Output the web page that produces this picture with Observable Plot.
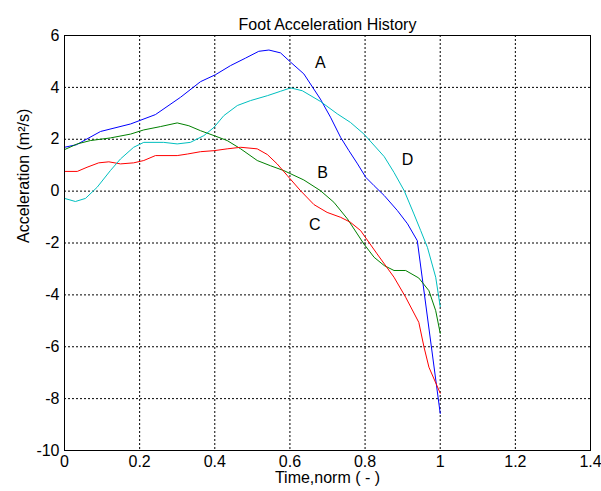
<!DOCTYPE html>
<html><head><meta charset="utf-8">
<script src="https://cdn.jsdelivr.net/npm/d3@7"></script>
<script src="https://cdn.jsdelivr.net/npm/@observablehq/plot@0.6"></script>
<style>body{margin:0;background:#fff}</style>
</head><body><div id="chart"></div>
<script>
const title = "Foot Acceleration History";
const xLabel = "Time,norm ( - )";
const yLabel = "Acceleration (m²/s)";
const xTicks = [0, 0.2, 0.4, 0.6, 0.8, 1, 1.2, 1.4];
const yTicks = [-10, -8, -6, -4, -2, 0, 2, 4, 6];

const aX = [0, 0.032, 0.096, 0.176, 0.242, 0.309, 0.362, 0.402, 0.442, 0.482, 0.517, 0.544, 0.575, 0.602, 0.637, 0.681, 0.708, 0.735, 0.757, 0.780, 0.802, 0.824, 0.851, 0.886, 0.913, 0.939, 1.0];
const aY = [1.69, 1.79, 2.3, 2.59, 2.95, 3.62, 4.22, 4.49, 4.84, 5.13, 5.39, 5.44, 5.33, 4.97, 4.52, 3.55, 2.85, 2.07, 1.56, 1.05, 0.53, 0.21, -0.17, -0.75, -1.26, -1.91, -8.57];

const bX = [0, 0.034, 0.069, 0.122, 0.176, 0.211, 0.256, 0.3, 0.331, 0.362, 0.398, 0.433, 0.469, 0.513, 0.548, 0.584, 0.637, 0.681, 0.717, 0.753, 0.797, 0.824, 0.851, 0.877, 0.908, 0.943, 0.970, 0.988, 1.0];
const bY = [1.6, 1.82, 1.95, 2.05, 2.2, 2.36, 2.49, 2.63, 2.52, 2.33, 2.14, 1.95, 1.63, 1.18, 0.98, 0.79, 0.43, 0.02, -0.43, -1.07, -2.04, -2.55, -2.87, -3.06, -3.06, -3.35, -3.84, -4.61, -5.48];

const cX = [0, 0.034, 0.06, 0.091, 0.118, 0.149, 0.184, 0.211, 0.242, 0.3, 0.327, 0.362, 0.398, 0.433, 0.469, 0.513, 0.540, 0.566, 0.593, 0.628, 0.664, 0.699, 0.735, 0.761, 0.788, 0.832, 0.877, 0.908, 0.943, 0.957, 0.970, 1.0];
const cY = [0.76, 0.76, 0.92, 1.09, 1.13, 1.05, 1.09, 1.18, 1.37, 1.37, 1.43, 1.52, 1.56, 1.63, 1.69, 1.63, 1.41, 1.05, 0.60, 0.02, -0.52, -0.82, -1.01, -1.2, -1.52, -2.42, -3.32, -4.09, -5.06, -6.02, -6.79, -7.79];

const dX = [0, 0.029, 0.056, 0.087, 0.122, 0.149, 0.184, 0.211, 0.264, 0.3, 0.335, 0.371, 0.398, 0.424, 0.46, 0.495, 0.540, 0.575, 0.602, 0.633, 0.681, 0.726, 0.761, 0.797, 0.851, 0.877, 0.904, 0.930, 0.948, 0.966, 0.988, 1.0];
const dY = [-0.28, -0.40, -0.28, 0.15, 0.79, 1.24, 1.69, 1.88, 1.88, 1.82, 1.88, 2.14, 2.46, 2.91, 3.30, 3.49, 3.68, 3.85, 3.98, 3.87, 3.46, 2.98, 2.65, 2.2, 1.33, 0.72, 0.02, -0.88, -1.52, -2.17, -3.32, -4.45];

const labelNames = ["A", "B", "C", "D"];
const labelX = [0.681, 0.687, 0.666, 0.913];
const labelY = [4.95, 0.71, -1.29, 1.21];

const series = [
  {x: aX, y: aY, color: "#0000ff"},
  {x: bX, y: bY, color: "#008000"},
  {x: cX, y: cY, color: "#ff0000"},
  {x: dX, y: dY, color: "#00bfbf"}
];
const labels = labelNames.map((t, i) => ({t, x: labelX[i], y: labelY[i]}));

const lineMarks = series.map(s =>
  Plot.line(s.x.map((x, i) => ({x, y: s.y[i]})), {x: "x", y: "y", stroke: s.color, strokeWidth: 1})
);

const FS = 16;
const chart = Plot.plot({
  width: 601,
  height: 491,
  marginLeft: 64,
  marginRight: 11,
  marginTop: 35,
  marginBottom: 41,
  style: {fontFamily: "'Liberation Sans', Arial, sans-serif", fontSize: FS + "px", background: "#fff", color: "#000"},
  x: {domain: [0, 1.4], ticks: xTicks, tickFormat: d => String(d), label: null},
  y: {domain: [-10, 6], ticks: yTicks, tickFormat: d => String(d), label: null},
  marks: [
    Plot.gridX(xTicks, {stroke: "#000", strokeOpacity: 1, strokeDasharray: "2,2", strokeWidth: 1}),
    Plot.gridY(yTicks, {stroke: "#000", strokeOpacity: 1, strokeDasharray: "2,2", strokeWidth: 1}),
    Plot.axisX(xTicks, {tickSize: 0, tickPadding: 5, fontSize: FS, tickFormat: d => String(d)}),
    Plot.axisY(yTicks, {tickSize: 0, tickPadding: 5, fontSize: FS, tickFormat: d => String(d)}),
    ...lineMarks,
    Plot.text(labels, {x: "x", y: "y", text: "t", fontSize: FS, fill: "#000"}),
    Plot.frame({stroke: "#000", strokeWidth: 1}),
    Plot.text([title], {frameAnchor: "top", dy: -17, fontSize: FS, fill: "#000"}),
    Plot.text([xLabel], {frameAnchor: "bottom", dy: 32, fontSize: FS, fill: "#000"}),
    Plot.text([yLabel], {frameAnchor: "left", dx: -41, rotate: -90, fontSize: FS, fill: "#000"})
  ]
});
document.getElementById("chart").appendChild(chart);
</script>
</body></html>
